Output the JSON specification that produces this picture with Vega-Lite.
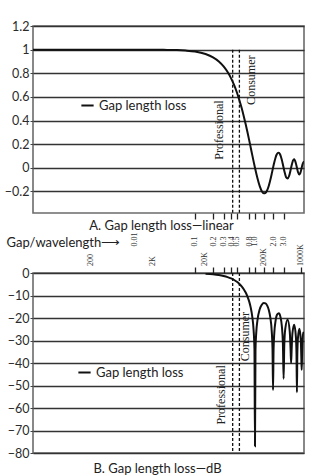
{
  "$schema": "https://vega.github.io/schema/vega-lite/v6.json",
  "padding": {"left": 3, "top": 19, "right": 0, "bottom": 0},
  "background": "white",
  "bounds": "flush",
  "spacing": 60,
  "datasets": {
    "linear": [
      {"gl": 0.0002, "loss": 1}, {"gl": 0.01, "loss": 1}, {"gl": 0.03, "loss": 0.998}, {"gl": 0.05, "loss": 0.996},
      {"gl": 0.07, "loss": 0.992}, {"gl": 0.1, "loss": 0.984}, {"gl": 0.15, "loss": 0.963}, {"gl": 0.2, "loss": 0.935},
      {"gl": 0.25, "loss": 0.9}, {"gl": 0.3, "loss": 0.858}, {"gl": 0.35, "loss": 0.81}, {"gl": 0.4, "loss": 0.757},
      {"gl": 0.45, "loss": 0.699}, {"gl": 0.5, "loss": 0.637}, {"gl": 0.55, "loss": 0.571}, {"gl": 0.6, "loss": 0.505},
      {"gl": 0.65, "loss": 0.436}, {"gl": 0.7, "loss": 0.368}, {"gl": 0.75, "loss": 0.3}, {"gl": 0.8, "loss": 0.234},
      {"gl": 0.85, "loss": 0.17}, {"gl": 0.9, "loss": 0.109}, {"gl": 0.95, "loss": 0.052}, {"gl": 1.0, "loss": 0},
      {"gl": 1.1, "loss": -0.089}, {"gl": 1.2, "loss": -0.156}, {"gl": 1.3, "loss": -0.198}, {"gl": 1.4, "loss": -0.216},
      {"gl": 1.5, "loss": -0.212}, {"gl": 1.6, "loss": -0.189}, {"gl": 1.7, "loss": -0.152}, {"gl": 1.8, "loss": -0.104},
      {"gl": 1.9, "loss": -0.052}, {"gl": 2.0, "loss": 0}, {"gl": 2.1, "loss": 0.047}, {"gl": 2.2, "loss": 0.085},
      {"gl": 2.3, "loss": 0.112}, {"gl": 2.4, "loss": 0.126}, {"gl": 2.5, "loss": 0.127}, {"gl": 2.6, "loss": 0.116},
      {"gl": 2.7, "loss": 0.095}, {"gl": 2.8, "loss": 0.067}, {"gl": 2.9, "loss": 0.034}, {"gl": 3.0, "loss": 0},
      {"gl": 3.1, "loss": -0.032}, {"gl": 3.3, "loss": -0.08}, {"gl": 3.5, "loss": -0.091}, {"gl": 3.7, "loss": -0.07},
      {"gl": 3.9, "loss": -0.025}, {"gl": 4.0, "loss": 0}, {"gl": 4.2, "loss": 0.045}, {"gl": 4.5, "loss": 0.071},
      {"gl": 4.8, "loss": 0.039}, {"gl": 5.0, "loss": 0}, {"gl": 5.2, "loss": -0.036}, {"gl": 5.5, "loss": -0.058},
      {"gl": 5.8, "loss": -0.032}, {"gl": 6.0, "loss": 0}, {"gl": 6.2, "loss": 0.03}, {"gl": 6.45, "loss": 0.049},
      {"gl": 6.56, "loss": 0.048}
    ],
    "db": [
      {"gl": 0.15, "loss": -0.32}, {"gl": 0.2, "loss": -0.58}, {"gl": 0.25, "loss": -0.91}, {"gl": 0.3, "loss": -1.33},
      {"gl": 0.35, "loss": -1.83}, {"gl": 0.4, "loss": -2.42}, {"gl": 0.45, "loss": -3.11}, {"gl": 0.5, "loss": -3.92},
      {"gl": 0.55, "loss": -4.86}, {"gl": 0.6, "loss": -5.94}, {"gl": 0.65, "loss": -7.2}, {"gl": 0.7, "loss": -8.69},
      {"gl": 0.75, "loss": -10.45}, {"gl": 0.8, "loss": -12.62}, {"gl": 0.85, "loss": -15.39}, {"gl": 0.9, "loss": -19.23},
      {"gl": 0.95, "loss": -25.6}, {"gl": 0.98, "loss": -33.8}, {"gl": 1.0, "loss": -77}, {"gl": 1.02, "loss": -34.2},
      {"gl": 1.05, "loss": -26.5}, {"gl": 1.1, "loss": -21}, {"gl": 1.2, "loss": -16.1}, {"gl": 1.3, "loss": -14.1},
      {"gl": 1.4, "loss": -13.3}, {"gl": 1.5, "loss": -13.5}, {"gl": 1.6, "loss": -14.5}, {"gl": 1.7, "loss": -16.4},
      {"gl": 1.8, "loss": -19.7}, {"gl": 1.9, "loss": -25.7}, {"gl": 1.96, "loss": -33.8}, {"gl": 2.0, "loss": -52},
      {"gl": 2.04, "loss": -34.2}, {"gl": 2.1, "loss": -26.6}, {"gl": 2.2, "loss": -21.4}, {"gl": 2.35, "loss": -18.4},
      {"gl": 2.5, "loss": -17.9}, {"gl": 2.65, "loss": -19.4}, {"gl": 2.8, "loss": -23.5}, {"gl": 2.92, "loss": -31.3},
      {"gl": 3.0, "loss": -47}, {"gl": 3.08, "loss": -31.8}, {"gl": 3.2, "loss": -24.7}, {"gl": 3.5, "loss": -20.8},
      {"gl": 3.8, "loss": -26.2}, {"gl": 3.92, "loss": -33.9}, {"gl": 4.0, "loss": -40}, {"gl": 4.08, "loss": -34.2},
      {"gl": 4.2, "loss": -27}, {"gl": 4.5, "loss": -23}, {"gl": 4.8, "loss": -28.2}, {"gl": 4.92, "loss": -35.9},
      {"gl": 5.0, "loss": -53}, {"gl": 5.08, "loss": -36.1}, {"gl": 5.2, "loss": -28.9}, {"gl": 5.5, "loss": -24.8},
      {"gl": 5.8, "loss": -29.8}, {"gl": 5.92, "loss": -37.5}, {"gl": 6.0, "loss": -43}, {"gl": 6.08, "loss": -37.7},
      {"gl": 6.2, "loss": -30.4}, {"gl": 6.4, "loss": -26.5}, {"gl": 6.56, "loss": -26.4}
    ],
    "formats": [
      {"name": "Professional", "gl": 0.425},
      {"name": "Consumer", "gl": 0.55}
    ],
    "freq": [
      {"f": "200", "gl": 0.00185},
      {"f": "2K", "gl": 0.02},
      {"f": "20K", "gl": 0.147},
      {"f": "200K", "gl": 1.4},
      {"f": "1000K", "gl": 5.8}
    ]
  },
  "vconcat": [
    {
      "width": 271,
      "height": 187,
      "title": {"text": "A. Gap length loss—linear", "orient": "bottom", "anchor": "middle", "offset": 0, "dx": -7, "font": "Lato", "fontSize": 13, "fontWeight": "normal", "color": "#222"},
      "layer": [
        {
          "data": {"name": "linear"},
          "mark": {"type": "line", "strokeWidth": 2, "interpolate": "monotone", "clip": true},
          "encoding": {
            "x": {"field": "gl", "type": "quantitative",
                  "scale": {"type": "log", "domain": [0.0002, 6.56], "nice": false},
                  "axis": {"orient": "bottom", "values": [0.1, 0.2, 0.3, 0.4, 0.5, 0.8, 1, 1.4, 2, 3], "tickCount": 40, "labels": false, "grid": false, "domain": false, "tickSize": 6, "tickWidth": 1.3, "tickColor": "#222", "title": null}},
            "y": {"field": "loss", "type": "quantitative",
                  "scale": {"domain": [-0.383, 1.2], "nice": false, "zero": false},
                  "axis": {"values": [-0.2, 0, 0.2, 0.4, 0.6, 0.8, 1, 1.2], "tickCount": 40, "labelOverlap": false, "format": "~g", "grid": true, "gridColor": "#333", "gridWidth": 1.3, "tickSize": 3, "tickColor": "#444", "labelPadding": 1, "domain": false, "title": null}},
            "color": {"datum": "Gap length loss", "type": "nominal", "scale": {"range": ["#111111"]},
                      "legend": {"orient": "none", "legendX": 47, "legendY": 72, "title": null, "symbolType": "stroke", "symbolSize": 150, "symbolStrokeWidth": 2, "labelFont": "Lato", "labelFontSize": 13, "labelColor": "#222", "padding": 0}}
          }
        },
        {
          "data": {"name": "formats"},
          "mark": {"type": "rule", "strokeDash": [3, 2], "strokeWidth": 1.3, "color": "#111"},
          "encoding": {
            "x": {"field": "gl", "type": "quantitative"},
            "y": {"datum": 1},
            "y2": {"datum": -0.383}
          }
        },
        {
          "data": {"name": "formats"},
          "transform": [{"filter": "datum.name === 'Professional'"}],
          "mark": {"type": "text", "angle": 270, "align": "right", "baseline": "middle", "dy": -14, "font": "Liberation Serif", "fontSize": 12, "color": "#222"},
          "encoding": {
            "x": {"field": "gl", "type": "quantitative"},
            "y": {"datum": 0.57},
            "text": {"field": "name"}
          }
        },
        {
          "data": {"name": "formats"},
          "transform": [{"filter": "datum.name === 'Consumer'"}],
          "mark": {"type": "text", "angle": 270, "align": "right", "baseline": "middle", "dy": 12, "font": "Liberation Serif", "fontSize": 12, "color": "#222"},
          "encoding": {
            "x": {"field": "gl", "type": "quantitative"},
            "y": {"datum": 0.95},
            "text": {"field": "name"}
          }
        }
      ]
    },
    {
      "width": 271,
      "height": 180,
      "title": {"text": "B. Gap length loss—dB", "orient": "bottom", "anchor": "middle", "offset": 3, "dx": -11, "font": "Lato", "fontSize": 13, "fontWeight": "normal", "color": "#222"},
      "layer": [
        {
          "data": {"name": "db"},
          "mark": {"type": "line", "strokeWidth": 2, "interpolate": "monotone", "clip": true},
          "encoding": {
            "x": {"field": "gl", "type": "quantitative",
                  "scale": {"type": "log", "domain": [0.0002, 6.56], "nice": false},
                  "axis": {"orient": "top", "values": [0.01, 0.1, 0.2, 0.3, 0.4, 0.5, 0.8, 1, 1.4, 2, 3, 5.8], "tickCount": 40,
                           "labelExpr": "datum.value == 0.01 ? '0.01' : (datum.value == 1.4 || datum.value == 5.8) ? '' : format(datum.value, '.1f')",
                           "tickOpacity": {"condition": {"test": "datum.value < 0.05", "value": 0}, "value": 1},
                           "grid": false, "domain": false, "tickSize": 6, "tickWidth": 1.3, "tickColor": "#222",
                           "labelAngle": 270, "labelAlign": "left", "labelBaseline": "middle", "labelPadding": 21,
                           "labelFont": "Liberation Serif", "labelFontSize": 8, "labelColor": "#333", "labelOverlap": false,
                           "title": "Gap/wavelength⟶", "titleAngle": 0, "titleX": -27, "titleY": -31, "titleAlign": "left", "titleBaseline": "middle",
                           "titleFont": "Lato", "titleFontSize": 13, "titleFontWeight": "normal", "titleColor": "#222"}},
            "y": {"field": "loss", "type": "quantitative",
                  "scale": {"domain": [-80, 0], "nice": false},
                  "axis": {"values": [-80, -70, -60, -50, -40, -30, -20, -10, 0], "tickCount": 40, "labelOverlap": false, "format": "d", "grid": true, "gridColor": "#333", "gridWidth": 1.3, "tickSize": 3, "tickColor": "#444", "labelPadding": 1, "domain": false, "title": null}},
            "color": {"datum": "Gap length loss", "type": "nominal", "scale": {"range": ["#111111"]},
                      "legend": {"orient": "none", "legendX": 44, "legendY": 92, "title": null, "symbolType": "stroke", "symbolSize": 150, "symbolStrokeWidth": 2, "labelFont": "Lato", "labelFontSize": 13, "labelColor": "#222", "padding": 0}}
          }
        },
        {
          "data": {"name": "formats"},
          "mark": {"type": "rule", "strokeDash": [3, 2], "strokeWidth": 1.3, "color": "#111"},
          "encoding": {
            "x": {"field": "gl", "type": "quantitative"},
            "y": {"datum": 0},
            "y2": {"datum": -80}
          }
        },
        {
          "data": {"name": "formats"},
          "transform": [{"filter": "datum.name === 'Professional'"}],
          "mark": {"type": "text", "angle": 270, "align": "right", "baseline": "middle", "dy": -12, "font": "Liberation Serif", "fontSize": 12, "color": "#222"},
          "encoding": {
            "x": {"field": "gl", "type": "quantitative"},
            "y": {"datum": -41},
            "text": {"field": "name"}
          }
        },
        {
          "data": {"name": "formats"},
          "transform": [{"filter": "datum.name === 'Consumer'"}],
          "mark": {"type": "text", "angle": 270, "align": "right", "baseline": "middle", "dy": 6, "font": "Liberation Serif", "fontSize": 12, "color": "#222"},
          "encoding": {
            "x": {"field": "gl", "type": "quantitative"},
            "y": {"datum": -17.3},
            "text": {"field": "name"}
          }
        },
        {
          "data": {"name": "freq"},
          "mark": {"type": "text", "angle": 270, "align": "left", "baseline": "middle", "dx": 7, "font": "Liberation Serif", "fontSize": 8, "color": "#333"},
          "encoding": {
            "x": {"field": "gl", "type": "quantitative"},
            "y": {"datum": 0},
            "text": {"field": "f"}
          }
        }
      ]
    }
  ],
  "resolve": {"scale": {"color": "independent"}, "legend": {"color": "independent"}},
  "config": {
    "font": "Lato",
    "view": {"stroke": "#6b6b6b", "strokeWidth": 1.6},
    "axis": {"labelFont": "Lato", "labelFontSize": 12.5, "labelColor": "#2b2b2b"}
  }
}
